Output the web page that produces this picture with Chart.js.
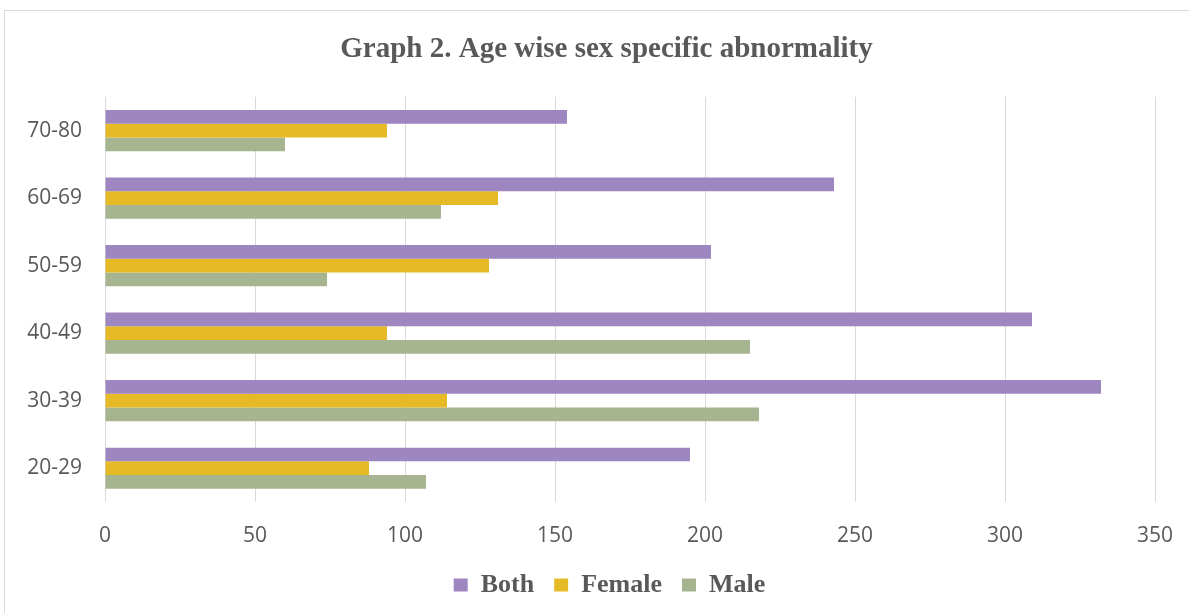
<!DOCTYPE html>
<html>
<head>
<meta charset="utf-8">
<script src="https://cdn.jsdelivr.net/npm/chart.js@4.4.1/dist/chart.umd.min.js"></script>
<style>
  html, body { margin: 0; padding: 0; background: #ffffff; overflow: hidden; }
  #frame {
    position: absolute; left: 4px; top: 10px; width: 1300px; height: 700px;
    border: 1px solid #d9d9d9; box-sizing: border-box;
  }
  #wrap { position: absolute; left: 0; top: 0; width: 1189px; height: 613px; }
</style>
</head>
<body>
<div id="frame"></div>
<div id="wrap"><canvas id="chart" width="1189" height="613"></canvas></div>
<script>
// Age groups, listed top to bottom as they appear on the axis
const ageGroups = ['70-80', '60-69', '50-59', '40-49', '30-39', '20-29'];

// Abnormality counts per age group
const bothValues   = [154, 243, 202, 309, 332, 195];
const femaleValues = [94, 131, 128, 94, 114, 88];
const maleValues   = [60, 112, 74, 215, 218, 107];

const xTicks = [0, 50, 100, 150, 200, 250, 300, 350];

const textGray = '#595959';
const serifFont = '"Liberation Serif", "Times New Roman", serif';
const sansFont = '"Open Sans", sans-serif';

// The frame extends past the right edge, so title and legend sit right of the canvas centre
const centreOffset = {
  id: 'centreOffset',
  afterLayout(chart) {
    const lg = chart.legend;
    if (lg) { lg.left += 32; lg.right += 32; }
    const tb = chart.titleBlock;
    if (tb) { tb.left += 29; tb.right += 29; }
  }
};

new Chart(document.getElementById('chart'), {
  type: 'bar',
  data: {
    labels: ageGroups,
    datasets: [
      { label: 'Both',   data: bothValues,   backgroundColor: '#9e86c0' },
      { label: 'Female', data: femaleValues, backgroundColor: '#e5ba26' },
      { label: 'Male',   data: maleValues,   backgroundColor: '#a6b490' }
    ]
  },
  plugins: [centreOffset],
  options: {
    indexAxis: 'y',
    responsive: false,
    animation: false,
    devicePixelRatio: 1,
    categoryPercentage: 0.61,
    barPercentage: 1.0,
    layout: { padding: { left: 0, right: 34, top: 0, bottom: 5 } },
    plugins: {
      title: {
        display: true,
        text: 'Graph 2. Age wise sex specific abnormality',
        color: textGray,
        font: { family: serifFont, size: 29, weight: 'bold' },
        padding: { top: 32, bottom: 30 }
      },
      legend: {
        position: 'bottom',
        labels: {
          color: textGray,
          font: { family: serifFont, size: 26, weight: 'bold' },
          boxWidth: 14,
          boxHeight: 13,
          padding: 20
        }
      },
      tooltip: { enabled: false }
    },
    scales: {
      x: {
        min: 0,
        max: 350,
        afterBuildTicks: (scale) => { scale.ticks = xTicks.map(v => ({ value: v })); },
        afterFit: (scale) => {
          scale.height = 50;
          scale.paddingLeft = 0;
          scale.paddingRight = 0;
        },
        grid: { color: '#d9d9d9', lineWidth: 1, drawTicks: false },
        border: { display: false },
        ticks: {
          color: textGray,
          padding: 21,
          maxRotation: 0,
          font: { family: sansFont, size: 21 }
        }
      },
      y: {
        grid: { display: false, drawTicks: false },
        border: { display: false },
        afterFit: (scale) => { scale.width = 105; },
        ticks: {
          color: textGray,
          padding: 23,
          font: { family: sansFont, size: 21 }
        }
      }
    }
  }
});
</script>
</body>
</html>
